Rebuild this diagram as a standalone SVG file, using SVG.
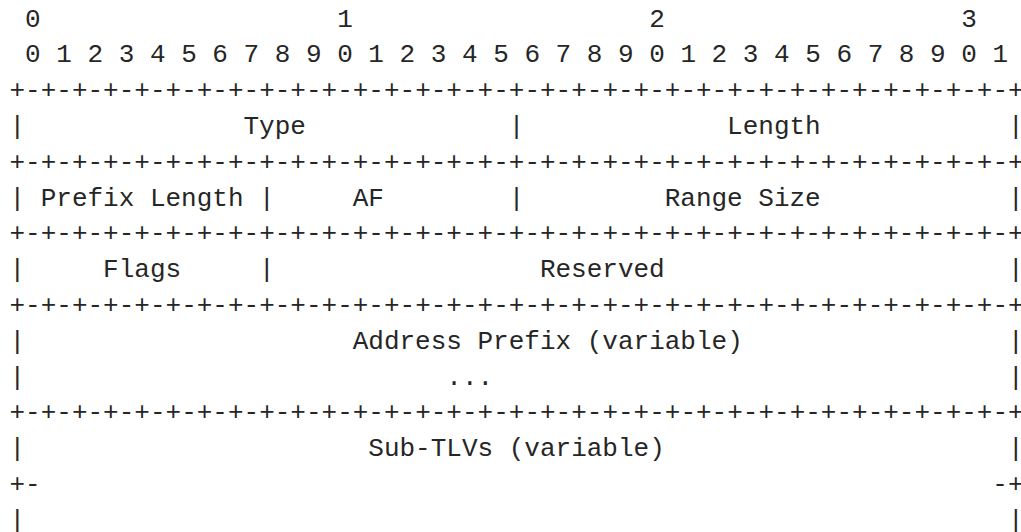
<svg xmlns="http://www.w3.org/2000/svg" width="1021" height="532" viewBox="0 0 1021 532">
<style>
text{font-family:"Liberation Mono","DejaVu Sans Mono",monospace;font-size:26px;fill:#262626;white-space:pre}
</style>
<rect width="1021" height="532" fill="#ffffff"/>
<g id="bit-ruler">
<text x="9.5" y="26.5" xml:space="preserve"> 0                   1                   2                   3</text>
<text x="9.5" y="62.3" xml:space="preserve"> 0 1 2 3 4 5 6 7 8 9 0 1 2 3 4 5 6 7 8 9 0 1 2 3 4 5 6 7 8 9 0 1</text>
</g>
<g id="connectors">
<text x="9.5" y="98.1">+-+-+-+-+-+-+-+-+-+-+-+-+-+-+-+-+-+-+-+-+-+-+-+-+-+-+-+-+-+-+-+-+</text>
<text x="9.5" y="169.7">+-+-+-+-+-+-+-+-+-+-+-+-+-+-+-+-+-+-+-+-+-+-+-+-+-+-+-+-+-+-+-+-+</text>
<text x="9.5" y="241.3">+-+-+-+-+-+-+-+-+-+-+-+-+-+-+-+-+-+-+-+-+-+-+-+-+-+-+-+-+-+-+-+-+</text>
<text x="9.5" y="312.9">+-+-+-+-+-+-+-+-+-+-+-+-+-+-+-+-+-+-+-+-+-+-+-+-+-+-+-+-+-+-+-+-+</text>
<text x="9.5" y="420.3">+-+-+-+-+-+-+-+-+-+-+-+-+-+-+-+-+-+-+-+-+-+-+-+-+-+-+-+-+-+-+-+-+</text>
<text x="9.5" y="491.9">+-</text>
<text x="992.3" y="491.9">-+</text>
<text x="9.5" y="133.9">|</text><text x="508.7" y="133.9">|</text><text x="1007.9" y="133.9">|</text>
<text x="9.5" y="205.5">|</text><text x="259.1" y="205.5">|</text><text x="508.7" y="205.5">|</text><text x="1007.9" y="205.5">|</text>
<text x="9.5" y="277.1">|</text><text x="259.1" y="277.1">|</text><text x="1007.9" y="277.1">|</text>
<text x="9.5" y="348.7">|</text><text x="1007.9" y="348.7">|</text>
<text x="9.5" y="384.5">|</text><text x="1007.9" y="384.5">|</text>
<text x="9.5" y="456.1">|</text><text x="1007.9" y="456.1">|</text>
<text x="9.5" y="527.7">|</text><text x="1007.9" y="527.7">|</text>
</g>
<g id="type"><text x="243.5" y="133.9">Type</text></g>
<g id="length"><text x="727.1" y="133.9">Length</text></g>
<g id="prefix-length"><text x="40.7" y="205.5">Prefix Length</text></g>
<g id="af"><text x="352.7" y="205.5">AF</text></g>
<g id="range-size"><text x="664.7" y="205.5">Range Size</text></g>
<g id="flags"><text x="103.1" y="277.1">Flags</text></g>
<g id="reserved"><text x="539.9" y="277.1">Reserved</text></g>
<g id="address-prefix">
<text x="352.7" y="348.7">Address Prefix (variable)</text>
<text x="446.3" y="384.5">...</text>
</g>
<g id="sub-tlvs"><text x="368.3" y="456.1">Sub-TLVs (variable)</text></g>
</svg>
